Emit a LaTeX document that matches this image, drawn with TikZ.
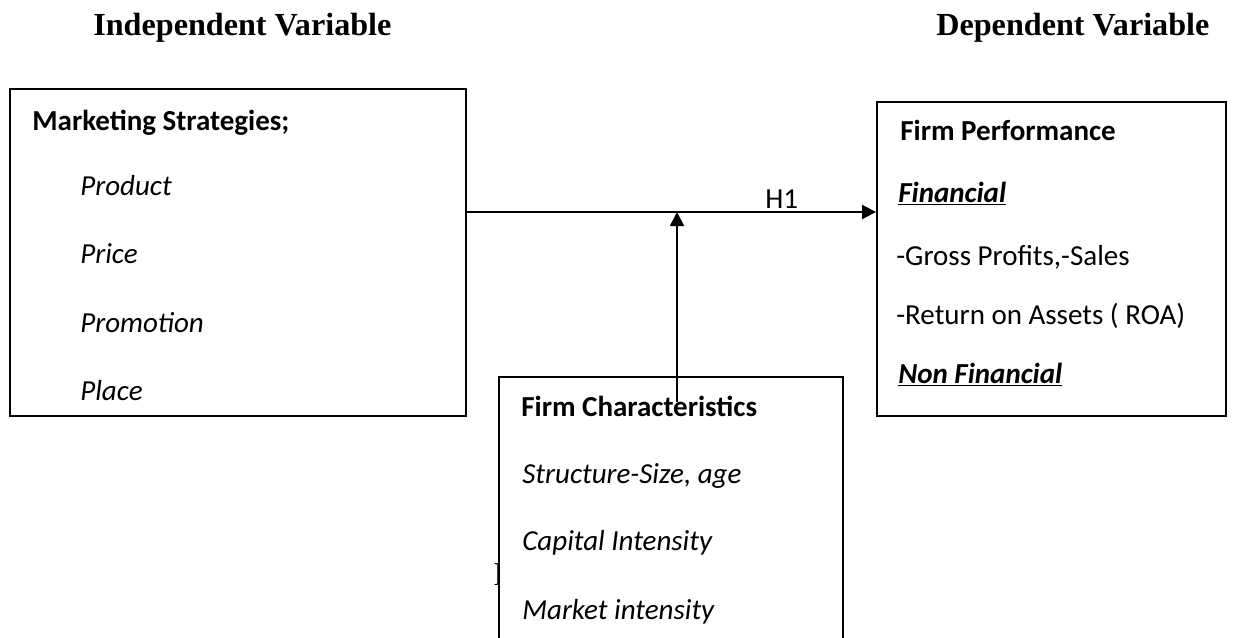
\documentclass[tikz,border=0pt]{standalone}
\usepackage{fontspec}
\setmainfont{Carlito}
\newfontfamily\headfont{Liberation Serif}
\usetikzlibrary{arrows.meta}
\tikzset{
	box/.style={draw, line width=1.1pt, inner sep=0pt},
	txt/.style={anchor=base west, inner sep=0pt, font=\fontsize{16.5}{20}\selectfont},
	head/.style={anchor=base west, inner sep=0pt, font=\headfont\bfseries\fontsize{18.3}{22}\selectfont},
	link/.style={line width=1.1pt, -{Triangle[length=8pt,width=8pt]}}
}

\begin{document}
\begin{tikzpicture}[x=0.02cm,y=-0.02cm]
	\path[use as bounding box, clip] (0,0) rectangle (1256,637);
	% headings
	\node (iv) at (93,35)[head] {Independent Variable};
	\node (dv) at (936,35)[head] {Dependent Variable};
	% left box
	\node (ms) at (238,252.5)[box, minimum width=9.12cm, minimum height=6.54cm] {};
	\node (ms0) at (32,130)[txt] {\bfseries Marketing Strategies;};
	\node (ms1) at (80,195)[txt] {\itshape Product};
	\node (ms2) at (80,263)[txt] {\itshape Price};
	\node (ms3) at (80,332)[txt] {\itshape Promotion};
	\node (ms4) at (80,400)[txt] {\itshape Place};
	% right box
	\node (fp) at (1051.5,259)[box, minimum width=6.98cm, minimum height=6.28cm] {};
	\node (fp0) at (900,140)[txt] {\bfseries Firm Performance};
	\node (fp1) at (898,202)[txt] {\bfseries\itshape\underline{Financial}};
	\node (fp2) at (896,265)[txt] {-Gross Profits,-Sales};
	\node (fp3) at (896,324)[txt] {-Return on Assets ( ROA)};
	\node (fp4) at (898,383)[txt] {\bfseries\itshape\underline{Non Financial}};
	% moderator box
	\node (stray) at (493,585)[anchor=base west, inner sep=0pt, font=\headfont\fontsize{19}{23}\selectfont] {I};
	\node (fc) at (671,518.5)[box, fill=white, minimum width=6.88cm, minimum height=5.66cm] {};
	\node (fc0) at (521,416)[txt] {\bfseries Firm Characteristics};
	\node (fc1) at (522,483)[txt] {\itshape Structure-Size, age};
	\node (fc2) at (522,550)[txt] {\itshape Capital Intensity};
	\node (fc3) at (522,619)[txt] {\itshape Market intensity};
	% arrows
	\coordinate (h1s) at (466,212);
	\coordinate (mod) at (677,402);
	\draw[link] (h1s) -- (h1s -| fp.west);
	\draw[link] (mod) -- (mod |- h1s);
	\node (h1) at (765,208)[txt] {H1};
\end{tikzpicture}
\end{document}
